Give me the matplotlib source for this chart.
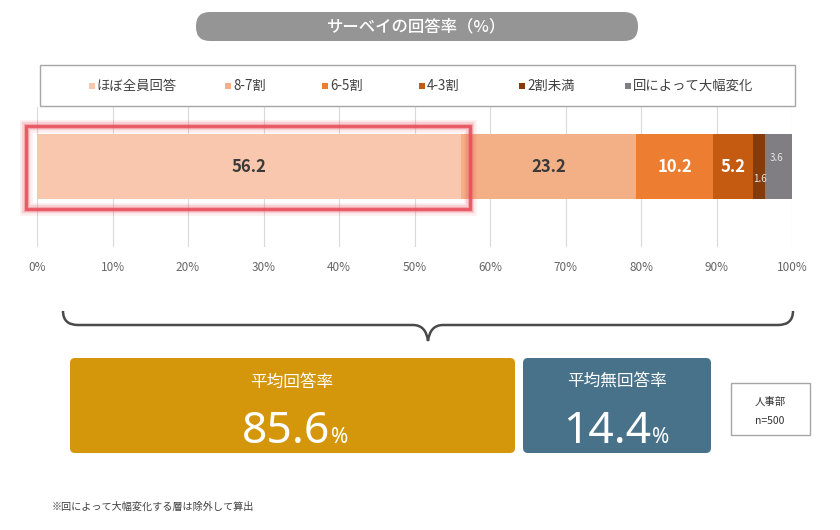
import matplotlib
matplotlib.use("Agg")
import matplotlib.pyplot as plt
from matplotlib.patches import FancyBboxPatch, Rectangle, PathPatch
from matplotlib.path import Path
import numpy as np

plt.rcParams['font.family'] = ['Noto Sans CJK JP', 'DejaVu Sans']

# ---- data ----
title = "サーベイの回答率（%）"
categories = ["ほぼ全員回答", "8-7割", "6-5割", "4-3割", "2割未満", "回によって大幅変化"]
values = [56.2, 23.2, 10.2, 5.2, 1.6, 3.6]
tick_values = [0, 10, 20, 30, 40, 50, 60, 70, 80, 90, 100]
tick_labels = [f"{v}%" for v in tick_values]
avg_response = 85.6
avg_nonresponse = 14.4
group_name = "人事部"
n_value = 500
footnote = "※回によって大幅変化する層は除外して算出"

# ---- styles ----
colors = ["#F8C7AD", "#F3AF86", "#ED7D31", "#C55A11", "#843C0C", "#807E82"]
label_colors = ["#3A3A3A", "#3A3A3A", "white", "white", "#E6E6E6", "#E6E6E6"]

W, H = 840, 530
fig = plt.figure(figsize=(8.4, 5.3), dpi=100)
fig.patch.set_facecolor("white")

def px(x0, y0, x1, y1):
    return [x0 / W, 1 - y1 / H, (x1 - x0) / W, (y1 - y0) / H]

# ---- bar axes ----
ax = fig.add_axes(px(37, 107, 792, 247))
left = 0.0
bar_y, bar_h = 0.575, 0.464
for i, (v, c) in enumerate(zip(values, colors)):
    ax.barh(bar_y, v, left=left, height=bar_h, color=c, edgecolor="none", zorder=3)
    cx = left + v / 2
    if v >= 5:
        ax.text(cx, bar_y, f"{v}", ha="center", va="center", fontsize=12,
                fontweight="bold", color=label_colors[i], zorder=5)
    elif i == 4:
        ax.annotate(f"{v}", (cx, bar_y), xytext=(0.5, -9), textcoords="offset points",
                    ha="center", va="center", fontsize=7, color=label_colors[i], zorder=5)
    else:
        ax.annotate(f"{v}", (cx, bar_y), xytext=(-1.5, 6), textcoords="offset points",
                    ha="center", va="center", fontsize=7, color=label_colors[i], zorder=5)
    left += v
ax.set_xlim(0, 100)
ax.set_ylim(0, 1)
ax.set_xticks(tick_values)
ax.set_xticklabels(tick_labels)
ax.set_yticks([])
ax.tick_params(axis="x", length=0, pad=10, labelsize=8.5, labelcolor="#666666")
ax.grid(axis="x", color="#DADADA", linewidth=0.8, zorder=0)
for s in ax.spines.values():
    s.set_visible(False)
ax.set_facecolor("none")

# ---- overlay axes in pixel coords ----
ov = fig.add_axes([0, 0, 1, 1])
ov.set_xlim(0, W)
ov.set_ylim(H, 0)
ov.axis("off")
ov.set_facecolor("none")

# title pill
ov.add_patch(FancyBboxPatch((196, 12), 442, 29, boxstyle="round,pad=0,rounding_size=14",
                            facecolor="#959595", edgecolor="none"))
ov.text(417, 27, title, ha="center", va="center", fontsize=11.8, color="white",
        fontweight="medium")

# legend box
ov.add_patch(Rectangle((40, 65), 755, 41, facecolor="white", edgecolor="#A6A6A6", linewidth=1))
leg_x = [92, 228, 325, 422, 522, 628]
for xm, c, lab in zip(leg_x, colors, categories):
    ov.add_patch(Rectangle((xm - 3, 83), 5.5, 5.5, facecolor=c, edgecolor="none"))
    ov.text(xm + 5, 86, lab, ha="left", va="center", fontsize=9.6, color="#404040")

# red highlight box with glow
for lw, a in [(9, 0.10), (6, 0.18), (3.5, 0.35), (2, 0.9)]:
    ov.add_patch(Rectangle((26, 126), 444, 83, facecolor="none", edgecolor="#E8505B",
                           linewidth=lw, alpha=a, joinstyle="miter"))

# brace
verts = [(63, 311), (63, 325), (78, 325), (413, 325), (426, 325), (428, 341),
         (430, 325), (443, 325), (778, 325), (793, 325), (793, 311)]
codes = [Path.MOVETO, Path.CURVE3, Path.CURVE3, Path.LINETO, Path.CURVE3, Path.CURVE3,
         Path.CURVE3, Path.CURVE3, Path.LINETO, Path.CURVE3, Path.CURVE3]
ov.add_patch(PathPatch(Path(verts, codes), facecolor="none", edgecolor="#4A4A4A", linewidth=1.8))

# summary boxes
ov.add_patch(FancyBboxPatch((70, 358), 445, 95, boxstyle="round,pad=0,rounding_size=5",
                            facecolor="#D4960A", edgecolor="none"))
ov.add_patch(FancyBboxPatch((523, 358), 188, 95, boxstyle="round,pad=0,rounding_size=5",
                            facecolor="#48728A", edgecolor="none"))

def big_value(xsplit, ybase, val):
    ov.text(xsplit, ybase, f"{val}", ha="right", va="baseline", fontsize=32,
            color="white", family=["Noto Sans", "DejaVu Sans"], fontweight="medium")
    ov.text(xsplit + 1, ybase, "%", ha="left", va="baseline", fontsize=15,
            color="white", family=["Noto Sans", "DejaVu Sans"], fontweight="medium")

ov.text(292, 382, "平均回答率", ha="center", va="center", fontsize=12, color="white")
big_value(330, 443, avg_response)
ov.text(617, 382, "平均無回答率", ha="center", va="center", fontsize=12, color="white")
big_value(651, 443, avg_nonresponse)

# n box
ov.add_patch(Rectangle((731, 383), 79, 52, facecolor="white", edgecolor="#A6A6A6", linewidth=1))
ov.text(770, 402, group_name, ha="center", va="center", fontsize=7.5, color="#333333")
ov.text(770, 421, f"n={n_value}", ha="center", va="center", fontsize=7.5, color="#333333")

# footnote
ov.text(52, 507, footnote, ha="left", va="center", fontsize=7.3, color="#404040")

fig.savefig("out.png", dpi=100, facecolor="white")
